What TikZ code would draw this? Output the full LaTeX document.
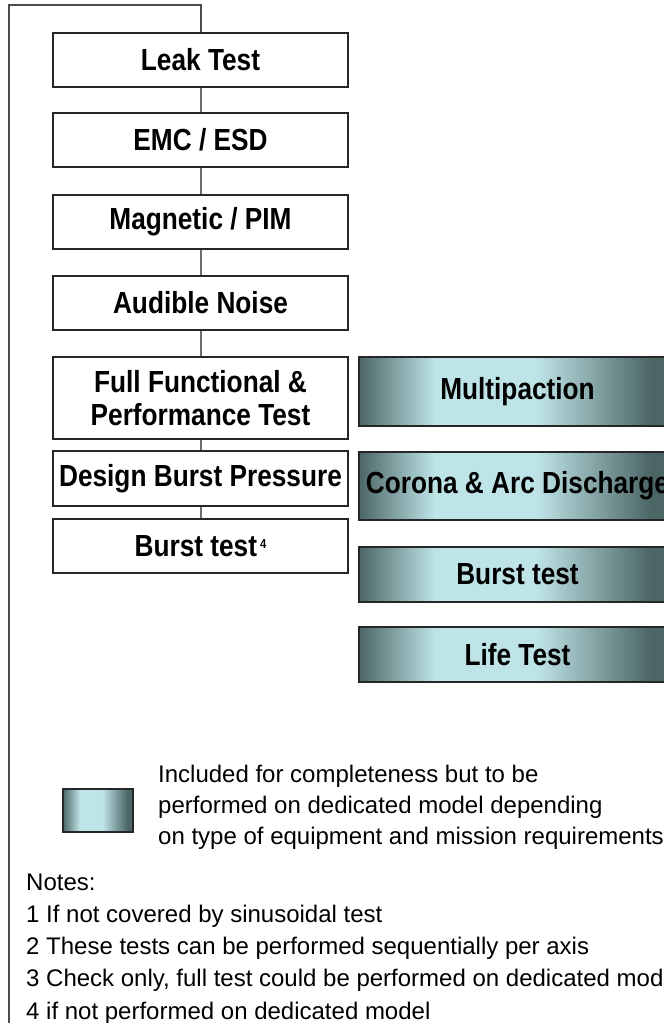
\documentclass[tikz,border=0pt]{standalone}
\usepackage{fontspec}
\setmainfont{Liberation Sans}
\newfontfamily\boxfont{Liberation Sans}[FakeStretch=0.86]
\usetikzlibrary{positioning}
\definecolor{slatedark}{RGB}{76,102,102}
\definecolor{slatelight}{RGB}{190,228,231}
\definecolor{linkgray}{RGB}{110,110,110}
\pgfdeclarehorizontalshading{slatebar}{100bp}{color(0bp)=(slatedark); color(25bp)=(slatedark);
  color(37bp)=(slatelight); color(53bp)=(slatelight); color(71bp)=(slatedark); color(100bp)=(slatedark)}

\begin{document}
\begin{tikzpicture}[
  x=1pt, y=-1pt,
  testbox/.style={draw=black!85, line width=1.3pt, fill=white, inner sep=0pt,
                  minimum width=295pt, align=center,
                  font=\boxfont\fontsize{30.5}{33}\selectfont\bfseries},
  modelbox/.style={draw=black!85, line width=1.3pt, inner sep=0pt, shading=slatebar,
                   minimum width=317pt, font=\boxfont\fontsize{30.5}{33}\selectfont\bfseries},
  link/.style={draw=linkgray, line width=2pt},
  frame/.style={draw=black!70, line width=2pt},
  note/.style={anchor=base west, inner sep=0pt, font=\fontsize{24}{28}\selectfont},
]
  \useasboundingbox (0,0) rectangle (664,1023);
  \clip (0,0) rectangle (664,1023);

  % sequence on the qualification model
  \node[testbox, minimum height=54pt] (leak) at (200.5,60) {Leak Test};
  \node[testbox, minimum height=54pt] (emc) at (200.5,140) {EMC / ESD};
  \node[testbox, minimum height=54pt] (magnetic) at (200.5,222) {Magnetic / PIM};
  \node[testbox, minimum height=54pt] (noise) at (200.5,303) {Audible Noise};
  \node[testbox, minimum height=82pt] (functional) at (200.5,398)
       {Full Functional \&\\Performance Test};
  \node[testbox, minimum height=55pt] (design) at (200.5,478.5) {Design Burst Pressure};
  \node[testbox, minimum height=54pt] (burst) at (200.5,546)
       {Burst test\kern3pt{\fontsize{13}{13}\selectfont\raisebox{8pt}{4}}};

  % dedicated model tests
  \node[modelbox, minimum height=69pt] (multipaction) at (517.5,391.5) {Multipaction};
  \node[modelbox, minimum height=68pt] (corona) at (517.5,486) {Corona \& Arc Discharge};
  \node[modelbox, minimum height=55pt] (dburst) at (517.5,574.5) {Burst test};
  \node[modelbox, minimum height=55pt] (life) at (517.5,654.5) {Life Test};

  % connections
  \draw[link] (leak) -- (emc);
  \draw[link] (emc) -- (magnetic);
  \draw[link] (magnetic) -- (noise);
  \draw[link] (noise) -- (functional);
  \draw[link] (functional) -- (design);
  \draw[link] (design) -- (burst);

  \coordinate (frametop) at (9,5);
  \coordinate (frameend) at (9,1023);
  \draw[frame] (leak.north) |- (frametop) -- (frameend);

  % legend
  \node[modelbox, minimum width=70pt, minimum height=43pt] (swatch) at (98,810.5) {};
  \node[note] (legend1) at (158,782) {Included for completeness but to be};
  \node[note] (legend2) at (158,813) {performed on dedicated model depending};
  \node[note] (legend3) at (158,844) {on type of equipment and mission requirements};

  % notes
  \foreach \txt [count=\i] in {Notes:, 1 If not covered by sinusoidal test,
      2 These tests can be performed sequentially per axis,
      {3 Check only, full test could be performed on dedicated model},
      4 if not performed on dedicated model}
    \node[note] (note\i) at (26,{890+32.3*(\i-1)}) {\txt};
\end{tikzpicture}
\end{document}
